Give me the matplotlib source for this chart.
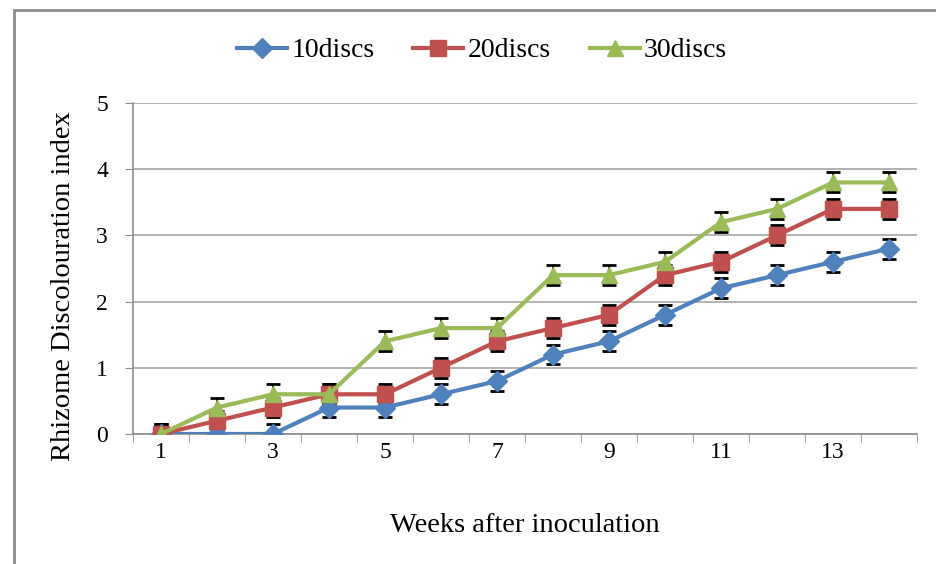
import numpy as np
import matplotlib.pyplot as plt
from matplotlib.patches import Rectangle

plt.rcParams['font.family'] = ['Liberation Serif', 'DejaVu Serif']

# Datos
semanas = np.arange(1, 15)
discos10 = [0, 0, 0, 0.4, 0.4, 0.6, 0.8, 1.2, 1.4, 1.8, 2.2, 2.4, 2.6, 2.8]
discos20 = [0, 0.2, 0.4, 0.6, 0.6, 1.0, 1.4, 1.6, 1.8, 2.4, 2.6, 3.0, 3.4, 3.4]
discos30 = [0, 0.4, 0.6, 0.6, 1.4, 1.6, 1.6, 2.4, 2.4, 2.6, 3.2, 3.4, 3.8, 3.8]
error = 0.15
etiquetas = ['10discs', '20discs', '30discs']
xticks_lab = [1, 3, 5, 7, 9, 11, 13]

fig = plt.figure(figsize=(9.36, 5.64), dpi=100)
ax = fig.add_axes([0.1421, 0.2305, 0.8376, 0.5869])

# Marco exterior
fig.patches.append(Rectangle((0.015, -0.02), 1.0, 1.002, transform=fig.transFigure,
                             fill=False, edgecolor='#8c8c8c', linewidth=2))

series = [discos10, discos20, discos30]
colores = ['#4F81BD', '#C0504D', '#9BBB59']
marcadores = ['D', 's', '^']
tamanos = [10, 12, 12]

for y, c, m, s, lab in zip(series, colores, marcadores, tamanos, etiquetas):
    ax.errorbar(semanas, y, yerr=error, fmt='none', ecolor='black',
                elinewidth=1.3, capsize=5, capthick=2, zorder=2)
    ax.plot(semanas, y, color=c, marker=m, markersize=s, linewidth=3,
            label=lab, zorder=3)

ax.set_xlim(0.5, 14.5)
ax.set_ylim(0, 5)
ax.set_yticks(range(6))
ax.set_xticks(xticks_lab)
ax.set_xticks(np.arange(0.5, 15, 1), minor=True)
ax.tick_params(axis='x', which='major', length=0, labelsize=17, pad=6)
ax.tick_params(axis='x', which='minor', length=6, color='#8c8c8c')
ax.tick_params(axis='y', length=6, color='#8c8c8c', labelsize=17, pad=12)
ax.yaxis.grid(True, color='#a6a6a6', linewidth=1.2)
ax.set_axisbelow(True)
for lado in ['top', 'right']:
    ax.spines[lado].set_visible(False)
for lado in ['left', 'bottom']:
    ax.spines[lado].set_color('#8c8c8c')
    ax.spines[lado].set_linewidth(1.2)

ax.set_xlabel('Weeks after inoculation', fontsize=20.5, labelpad=36)
ax.set_ylabel('Rhizome Discolouration index', fontsize=20.5, labelpad=14)
ax.yaxis.set_label_coords(-0.073, 0.447)

fig.legend(loc='center', bbox_to_anchor=(0.515, 0.91), ncol=3, frameon=False,
           fontsize=20, handlelength=1.8, columnspacing=1.4, handletextpad=0.15)

plt.savefig('out.png', dpi=100)
